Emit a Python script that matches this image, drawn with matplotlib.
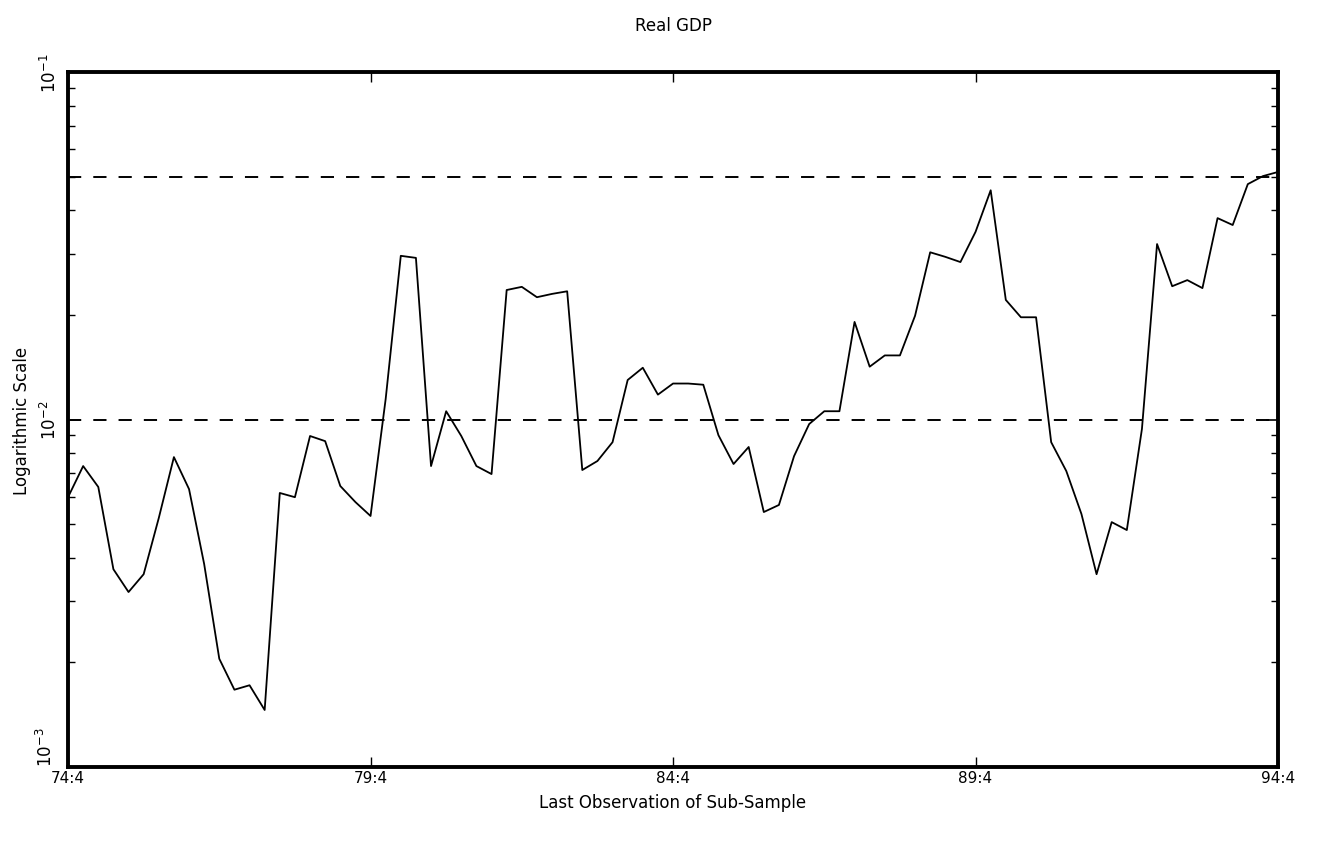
import numpy as np
import matplotlib
matplotlib.use("Agg")
import matplotlib.pyplot as plt
from matplotlib.ticker import LogLocator, NullFormatter, FixedLocator

# quarterly sub-sample end points, 74:4 .. 94:4
quarters = np.arange(81)
tick_pos = [0, 20, 40, 60, 80]
tick_labels = ["74:4", "79:4", "84:4", "89:4", "94:4"]

values = [
    0.00598, 0.00735, 0.00640, 0.00371, 0.00319, 0.00359, 0.00521, 0.00780,
    0.00631, 0.00384, 0.00205, 0.00167, 0.00172, 0.00146, 0.00615, 0.00598,
    0.00897, 0.00867, 0.00644, 0.00579, 0.00528, 0.01146, 0.0296, 0.0292,
    0.00735, 0.01057, 0.00897, 0.00735, 0.00697, 0.0236, 0.0241, 0.0225,
    0.0230, 0.0234, 0.00716, 0.00760, 0.00861, 0.0130, 0.0141, 0.0118,
    0.0127, 0.0127, 0.0126, 0.00902, 0.00745, 0.00834, 0.00542, 0.00568,
    0.00785, 0.00971, 0.01057, 0.01057, 0.0191, 0.0142, 0.0153, 0.0153,
    0.0199, 0.0303, 0.0294, 0.0284, 0.0347, 0.0457, 0.0221, 0.0197,
    0.0197, 0.00861, 0.00711, 0.00535, 0.00359, 0.00507, 0.00481, 0.00940,
    0.0320, 0.0242, 0.0252, 0.0239, 0.0380, 0.0363, 0.0476, 0.0502,
    0.0516,
]
critical = [0.01, 0.05]

fig = plt.figure(figsize=(13.21, 8.45), dpi=100)
ax = fig.add_axes([0.0515, 0.091, 0.916, 0.8225])

ax.plot(quarters, values, color="black", lw=1.3)
for c in critical:
    ax.axhline(c, color="black", lw=1.4, ls=(0, (6.8, 6.2)))

ax.set_yscale("log")
ax.set_ylim(1e-3, 1e-1)
ax.set_xlim(0, 80)

ax.xaxis.set_major_locator(FixedLocator(tick_pos))
ax.set_xticklabels(tick_labels, fontsize=11)
ax.yaxis.set_minor_locator(LogLocator(base=10, subs=np.arange(2, 10), numticks=10))
ax.yaxis.set_minor_formatter(NullFormatter())
ax.set_yticks([1e-3, 1e-2, 1e-1])
# bottom label drawn by hand, slightly raised so it clears "74:4"
ax.set_yticklabels(["", r"$10^{-2}$", r"$10^{-1}$"], rotation=90,
                   va="center", fontsize=12)
ax.annotate(r"$10^{-3}$", xy=(0, 1e-3), xycoords=("axes fraction", "data"),
            xytext=(-16, 1), textcoords="offset points", rotation=90,
            ha="center", va="bottom", fontsize=12)

ax.tick_params(axis="both", which="both", direction="in", top=True, right=True)
ax.tick_params(axis="y", which="major", length=9, width=1.2, pad=6)
ax.tick_params(axis="y", which="minor", length=5, width=1.0)
ax.tick_params(axis="x", which="major", length=7, width=1.0, pad=2)

for s in ax.spines.values():
    s.set_linewidth(2.8)

ax.set_title("Real GDP", fontsize=12, pad=30)
ax.set_xlabel("Last Observation of Sub-Sample", fontsize=12, labelpad=6)
ax.set_ylabel("Logarithmic Scale", fontsize=12, labelpad=6)

fig.savefig("out.png", dpi=100, facecolor="white")
